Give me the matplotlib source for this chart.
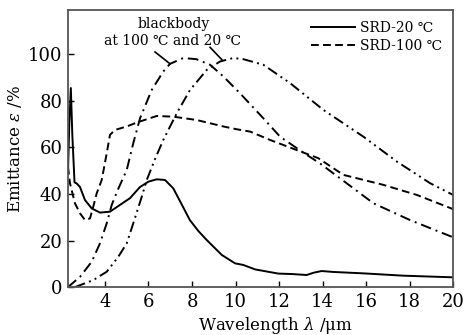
import matplotlib
matplotlib.use("Agg")
import matplotlib.pyplot as plt

plt.rcParams['font.family'] = ['DejaVu Serif']
plt.rcParams['mathtext.fontset'] = 'dejavuserif'

# SRD-20 ℃ (solid)
srd20_x = [2.3, 2.36, 2.43, 2.5, 2.6, 2.7, 2.85, 3.08, 3.39, 3.77, 4.23, 4.69, 5.15,
           5.61, 6.0, 6.38, 6.76, 7.14, 7.5, 7.9, 8.3, 8.68, 9.37, 9.98, 10.36, 10.9,
           11.97, 12.6, 13.27, 13.6, 13.96, 14.5, 15.88, 17.72, 20.0]
srd20_y = [50, 70, 85.5, 65, 45, 44.5, 43, 37.4, 33.8, 32, 32.4, 35.3, 38.2,
           43, 45.3, 46.3, 46, 42.4, 36, 28.8, 24, 20.2, 13.8, 10.2, 9.5, 7.6,
           5.8, 5.6, 5.2, 6.2, 6.9, 6.5, 5.9, 4.9, 4.2]

# SRD-100 ℃ (dashed)
srd100_x = [2.3, 2.39, 2.62, 2.85, 3.08, 3.31, 3.46, 3.62, 3.85, 4.08, 4.23, 4.46, 5.0,
            5.5, 6.38, 7.14, 8.2, 9.44, 10.05, 10.67, 11.59, 12.8, 13.8, 14.96, 16.8,
            18.33, 20.0]
srd100_y = [51.7, 44.6, 36, 31.7, 28.8, 29.5, 34.5, 40.3, 46, 57.5, 65.4, 67.5, 69,
            70.8, 73.5, 73.2, 71.8, 69, 67.8, 66.8, 63.2, 58.9, 55.4, 48.2, 43.9,
            39.6, 33.5]

# blackbody at 100 ℃ (dash-dot)
bb100_x = [2.3, 2.85, 3.39, 3.77, 4.08, 4.31, 4.6, 5.0, 5.3, 5.61, 6.15, 6.68, 6.99,
           7.6, 8.2, 8.83, 9.44, 10.2, 11.28, 12.05, 13.0, 13.9, 15.11, 16.34, 18.02, 20.0]
bb100_y = [0, 4.4, 10.9, 18.8, 27.4, 35.3, 42, 50.3, 61.8, 72.5, 84.7, 92.6, 95.9,
           98.4, 97.9, 95.5, 90.5, 83.3, 72.5, 64.6, 58.5, 53.0, 44.6, 36, 28.8, 21.4]

# blackbody at 20 ℃ (dash-dot-dot)
bb20_x = [2.62, 3.46, 4.08, 4.61, 5.0, 5.3, 5.69, 5.92, 6.3, 6.68, 7.3, 7.91, 8.68,
          9.29, 9.9, 10.36, 11.28, 12.51, 14.04, 15.88, 17.42, 18.95, 20.0]
bb20_y = [0, 3, 6.6, 13, 18.8, 27.4, 38.8, 46, 55, 63.2, 74.7, 84.7, 93.3,
          96.9, 98.4, 97.9, 95.5, 87.6, 76.1, 64.6, 53.9, 44.6, 39.6]

x_ticks = [4, 6, 8, 10, 12, 14, 16, 18, 20]
y_ticks = [0, 20, 40, 60, 80, 100]

fig = plt.figure(figsize=(4.69, 3.35), dpi=100)
ax = fig.add_axes([0.145, 0.143, 0.821, 0.827])

lw = 1.4
ax.plot(srd20_x, srd20_y, color='black', lw=lw, ls='-', label='SRD-20 ℃')
ax.plot(srd100_x, srd100_y, color='black', lw=lw, ls=(0, (4, 2.2)), label='SRD-100 ℃')
ax.plot(bb100_x, bb100_y, color='black', lw=lw, ls=(0, (5.5, 2.5, 1, 2.5)))
ax.plot(bb20_x, bb20_y, color='black', lw=lw, ls=(0, (5.5, 2.2, 1, 2.2, 1, 2.2)))

ax.set_xlim(2.3, 20)
ax.set_ylim(0, 119)
ax.set_xticks(x_ticks)
ax.set_yticks(y_ticks)
ax.tick_params(direction='in', length=4, width=1, labelsize=13, pad=4, colors='black')
for s in ax.spines.values():
    s.set_color('#555555')
    s.set_linewidth(1.3)

ax.set_xlabel('Wavelength $\\lambda$ /μm', fontsize=12, labelpad=3, x=0.54)
ax.set_ylabel('Emittance $\\varepsilon$ /%', fontsize=12, labelpad=3)

leg = ax.legend(loc='upper right', frameon=False, fontsize=10, handlelength=3.2,
                handletextpad=0.35, labelspacing=0.3, borderaxespad=0.4)

ax.text(7.15, 113.0, 'blackbody', ha='center', va='center', fontsize=10)
ax.text(7.1, 105.5, 'at 100 ℃ and 20 ℃', ha='center', va='center', fontsize=10)
ax.plot([6.3, 6.99], [101, 95.9], color='black', lw=1.2)
ax.plot([8.83, 9.38], [103, 97.6], color='black', lw=1.2)

fig.savefig('out.png', dpi=100)
